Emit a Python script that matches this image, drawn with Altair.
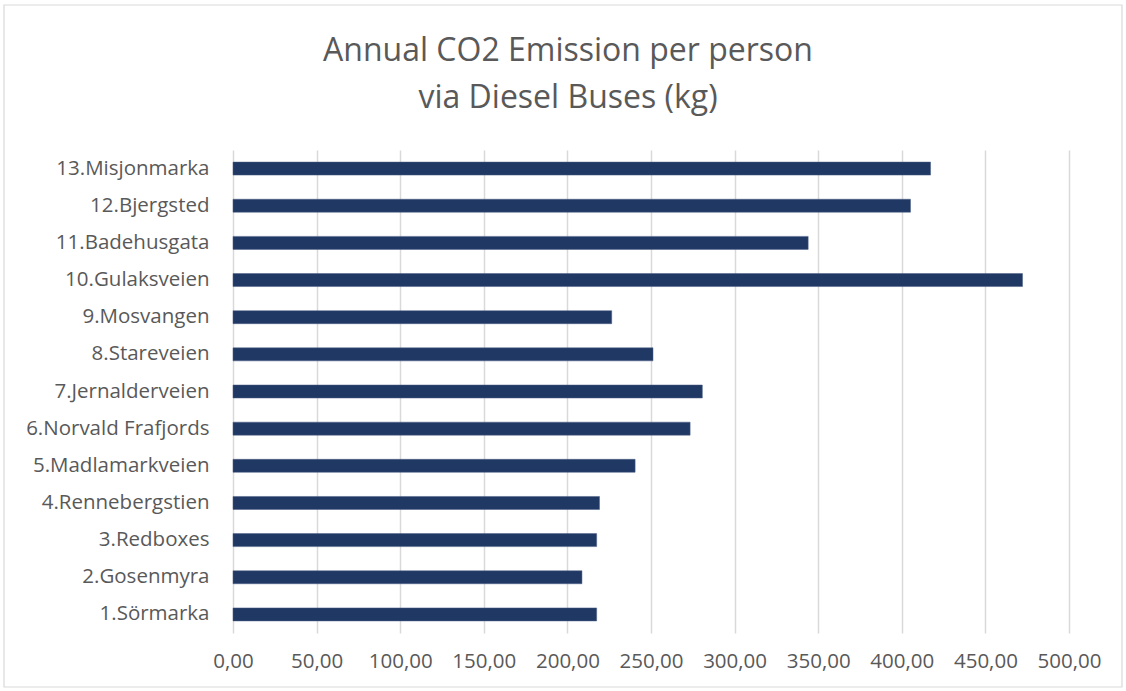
import altair as alt
import pandas as pd

categories = ["13.Misjonmarka", "12.Bjergsted", "11.Badehusgata", "10.Gulaksveien",
              "9.Mosvangen", "8.Stareveien", "7.Jernalderveien", "6.Norvald Frafjords",
              "5.Madlamarkveien", "4.Rennebergstien", "3.Redboxes", "2.Gosenmyra", "1.Sörmarka"]
values = [417.2, 405.2, 344.0, 472.2, 226.5, 251.2, 280.7, 273.4, 240.5, 219.2, 217.5, 208.7, 217.5]
x_ticks = [0, 50, 100, 150, 200, 250, 300, 350, 400, 450, 500]

df = pd.DataFrame({"site": categories, "value": values})

FONT = "Open Sans"
W, H = 836, 483

bars = alt.Chart(df).mark_bar(color="#203864", stroke="#4a5f85", strokeWidth=0.5).encode(
    y=alt.Y("site:N", sort=categories,
            scale=alt.Scale(paddingInner=0.65, paddingOuter=0.325),
            axis=alt.Axis(title=None, labelFontSize=20.5, labelColor="#595959", labelFont=FONT,
                          ticks=False, domain=False, labelPadding=24, grid=False, labelLimit=300)),
    x=alt.X("value:Q", scale=alt.Scale(domain=[0, 500], nice=False),
            axis=alt.Axis(title=None, values=x_ticks, labelFontSize=20.5, labelColor="#595959",
                          labelFont=FONT, ticks=False, domain=False, labelPadding=18,
                          labelOverlap=False, labelFlush=False,
                          grid=True, gridColor="#d9d9d9", gridWidth=1.5,
                          labelExpr="replace(format(datum.value, '.2f'), '.', ',')")),
)

border = alt.Chart(pd.DataFrame({"a": [0]})).mark_rect(
    fill=None, stroke="#d9d9d9", strokeWidth=1.2
).encode(
    x=alt.value(-229), x2=alt.value(W + 53),
    y=alt.value(-145), y2=alt.value(H + 54),
)

chart = alt.layer(border, bars).properties(
    width=W, height=H,
    title=alt.TitleParams(
        text=["Annual CO2 Emission per person", "via Diesel Buses (kg)"],
        fontSize=32, font=FONT, fontWeight="normal", color="#595959",
        anchor="middle", dx=-83, offset=-111, lineHeight=47,
    ),
    autosize=alt.AutoSizeParams(type="none"),
    padding={"left": 233, "top": 150, "right": 57, "bottom": 58},
).configure(background="white").configure_view(stroke=None)

chart.save("out.html", embed_options={"renderer": "svg", "actions": False})
